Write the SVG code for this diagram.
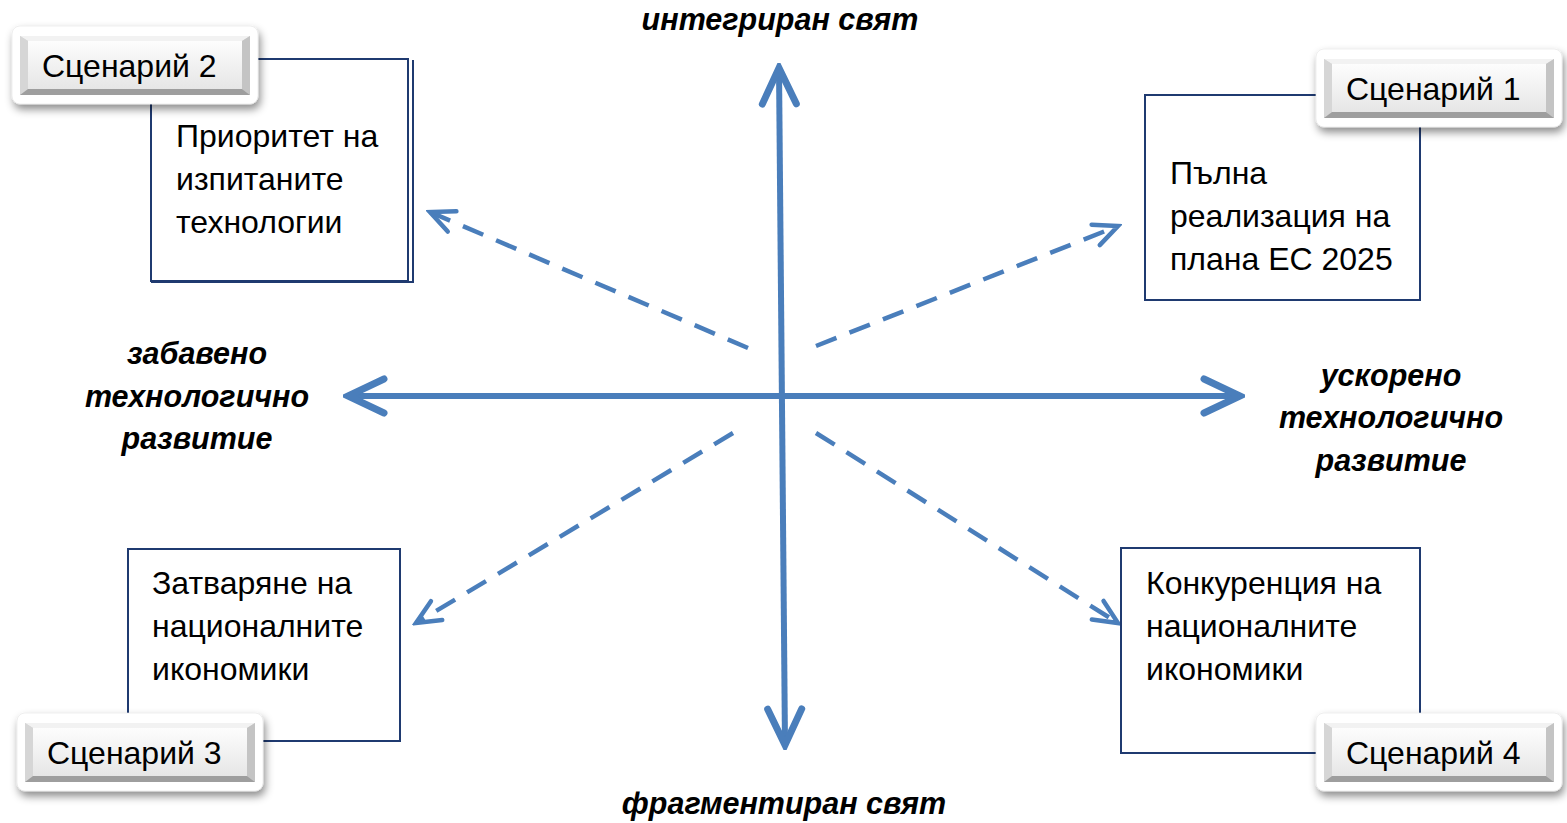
<svg xmlns="http://www.w3.org/2000/svg" xmlns:xlink="http://www.w3.org/1999/xlink" width="1567" height="823" viewBox="0 0 1567 823">
<style>
.box{fill:#fff;stroke:#1F3A70;stroke-width:2}
.t{font-family:"Liberation Sans",Arial,sans-serif;font-size:32px;fill:#000}
.ax{font-family:"Liberation Sans",Arial,sans-serif;font-size:30.5px;font-weight:bold;font-style:italic;fill:#000;text-anchor:middle}
.axis{stroke:#4A7EBB;stroke-width:6;fill:none}
.dash{stroke:#4A7EBB;stroke-width:4.5;fill:none;stroke-dasharray:22 14}
</style>
<defs>
<filter id="sh" x="-20%" y="-30%" width="140%" height="170%">
<feDropShadow dx="2" dy="5" stdDeviation="4" flood-color="#000" flood-opacity="0.45"/>
</filter>
<linearGradient id="face" x1="0" y1="0" x2="0" y2="1">
<stop offset="0" stop-color="#fdfdfd"/>
<stop offset="1" stop-color="#e6e6e6"/>
</linearGradient>
<marker id="big" markerUnits="userSpaceOnUse" viewBox="-45 -25 50 50" markerWidth="50" markerHeight="50" refX="0" refY="0" orient="auto-start-reverse">
<path d="M -36 -17 L 0 0 L -36 17" fill="none" stroke="#4A7EBB" stroke-width="7" stroke-linecap="round" stroke-linejoin="miter"/>
</marker>
<marker id="small" markerUnits="userSpaceOnUse" viewBox="-30 -16 34 32" markerWidth="34" markerHeight="32" refX="0" refY="0" orient="auto">
<path d="M -24 -11 L 0 0 L -24 11" fill="none" stroke="#4A7EBB" stroke-width="4.5" stroke-linecap="round" stroke-linejoin="miter"/>
</marker>
<g id="btn">
<rect x="0" y="0" width="246" height="78" rx="8" fill="#fff" stroke="#e4e4e4" stroke-width="0.6" filter="url(#sh)"/>
<rect x="8" y="10" width="230" height="59" fill="#d8d8d8"/>
<polygon points="8,10 238,10 230,15 16,15" fill="#f2f2f2"/>
<polygon points="8,10 16,15 16,63 8,69" fill="#d6d6d6"/>
<polygon points="238,10 230,15 230,63 238,69" fill="#c4c4c4"/>
<polygon points="8,69 16,63 230,63 238,69" fill="#9e9e9e"/>
<rect x="16" y="15" width="214" height="48" fill="url(#face)"/>
</g>
</defs>
<rect width="1567" height="823" fill="#fff"/>

<g id="connectors">
<line class="axis" x1="785" y1="745" x2="779" y2="68" marker-start="url(#big)" marker-end="url(#big)"/>
<line class="axis" x1="348" y1="396" x2="1240" y2="396" marker-start="url(#big)" marker-end="url(#big)"/>
<line class="dash" x1="748" y1="348" x2="430" y2="212" marker-end="url(#small)"/>
<line class="dash" x1="816" y1="346" x2="1118" y2="226" marker-end="url(#small)"/>
<line class="dash" x1="733" y1="433" x2="416" y2="623" marker-end="url(#small)"/>
<line class="dash" x1="816" y1="433" x2="1118" y2="623" marker-end="url(#small)"/>
</g>

<g id="axis-labels">
<text class="ax" x="780" y="30">интегриран свят</text>
<text class="ax" x="784" y="814">фрагментиран свят</text>
<text class="ax" x="197" y="364">забавено</text>
<text class="ax" x="197" y="407">технологично</text>
<text class="ax" x="197" y="449">развитие</text>
<text class="ax" x="1391" y="386">ускорено</text>
<text class="ax" x="1391" y="428">технологично</text>
<text class="ax" x="1391" y="471">развитие</text>
</g>

<g id="scenario2">
<rect class="box" x="151" y="59" width="257" height="222"/>
<polyline points="413,60 413,282 151,282" fill="none" stroke="#1F3A70" stroke-width="2"/>
<text class="t" x="176" y="147">Приоритет на</text>
<text class="t" x="176" y="190">изпитаните</text>
<text class="t" x="176" y="233">технологии</text>
<use xlink:href="#btn" x="12" y="26"/>
<text class="t" x="42" y="77">Сценарий 2</text>
</g>

<g id="scenario1">
<rect class="box" x="1145" y="95" width="275" height="205"/>
<text class="t" x="1170" y="184">Пълна</text>
<text class="t" x="1170" y="227">реализация на</text>
<text class="t" x="1170" y="270">плана ЕС 2025</text>
<use xlink:href="#btn" x="1316" y="49"/>
<text class="t" x="1346" y="100">Сценарий 1</text>
</g>

<g id="scenario3">
<rect class="box" x="128" y="549" width="272" height="192"/>
<text class="t" x="152" y="594">Затваряне на</text>
<text class="t" x="152" y="637">националните</text>
<text class="t" x="152" y="680">икономики</text>
<use xlink:href="#btn" x="17" y="713"/>
<text class="t" x="47" y="764">Сценарий 3</text>
</g>

<g id="scenario4">
<rect class="box" x="1121" y="548" width="299" height="205"/>
<text class="t" x="1146" y="594">Конкуренция на</text>
<text class="t" x="1146" y="637">националните</text>
<text class="t" x="1146" y="680">икономики</text>
<use xlink:href="#btn" x="1316" y="713"/>
<text class="t" x="1346" y="764">Сценарий 4</text>
</g>
</svg>
